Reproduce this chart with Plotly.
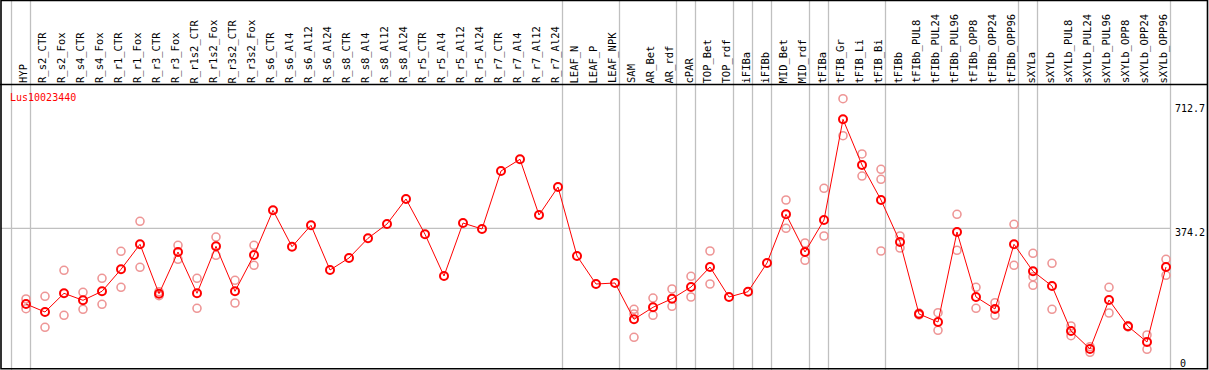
import plotly.graph_objects as go

categories = ["HYP", "R_s2_CTR", "R_s2_Fox", "R_s4_CTR", "R_s4_Fox", "R_r1_CTR", "R_r1_Fox",
              "R_r3_CTR", "R_r3_Fox", "R_r1s2_CTR", "R_r1s2_Fox", "R_r3s2_CTR", "R_r3s2_Fox",
              "R_s6_CTR", "R_s6_Al4", "R_s6_Al12", "R_s6_Al24", "R_s8_CTR", "R_s8_Al4", "R_s8_Al12",
              "R_s8_Al24", "R_r5_CTR", "R_r5_Al4", "R_r5_Al12", "R_r5_Al24", "R_r7_CTR", "R_r7_Al4",
              "R_r7_Al12", "R_r7_Al24", "LEAF_N", "LEAF_P", "LEAF_NPK", "SAM", "AR_Bet", "AR_rdf",
              "cPAR", "TOP_Bet", "TOP_rdf", "iFIBa", "iFIBb", "MID_Bet", "MID_rdf", "tFIBa",
              "tFIB_Gr", "tFIB_Li", "tFIB_Bi", "tFIBb", "tFIBb_PUL8", "tFIBb_PUL24", "tFIBb_PUL96",
              "tFIBb_OPP8", "tFIBb_OPP24", "tFIBb_OPP96", "sXYLa", "sXYLb", "sXYLb_PUL8",
              "sXYLb_PUL24", "sXYLb_PUL96", "sXYLb_OPP8", "sXYLb_OPP24", "sXYLb_OPP96"]

means = [172.1, 150.8, 200.7, 182.0, 206.0, 264.7, 331.5, 199.6, 310.9, 200.7, 326.1, 206.0, 302.9,
         422.2, 325.1, 382.2, 262.9, 294.9, 347.5, 385.6, 452.4, 358.2, 246.9, 388.3, 372.3,
         527.1, 558.3, 409.7, 484.4, 300.2, 225.5, 228.2, 131.3, 163.3, 186.3, 217.5, 270.9,
         190.8, 205.0, 281.6, 411.5, 310.9, 396.3, 665.0, 543.1, 449.7, 337.6, 145.5, 124.1,
         364.3, 190.8, 158.8, 331.5, 259.4, 220.2, 100.1, 52.0, 182.8, 112.6, 70.7, 270.9]

N = None
rep_a = [185.5, 192.7, 262.1, 203.4, 240.7, 312.8, 392.8, 205.0, 328.8, 240.7, 350.9, 235.4, 328.8,
         N, N, N, N, N, N, N, N, N, N, N, N, N, N, N, N, N, N, N,
         158.0, 188.1, 212.2, 246.1, 313.6, N, N, N, 449.7, 334.9, 480.9, 720.0, 572.5, 531.6,
         353.6, 148.0, 148.9, 411.5, 216.7, 175.6, 384.8, 307.4, 280.8, 113.4, 58.2, 216.7,
         114.0, 89.4, 291.4]
rep_b = [159.6, 110.0, 142.0, 158.0, 171.3, 216.7, 270.1, 194.3, 291.4, 160.7, 302.1, 174.8, 275.4,
         N, N, N, N, N, N, N, N, N, N, N, N, N, N, N, N, N, N, N,
         83.3, 142.0, 166.0, 190.8, 225.5, N, N, N, 374.2, 288.8, 353.6, 621.3, 513.7, 313.6,
         321.6, 143.0, 101.9, 315.5, 160.7, 142.0, 275.4, 222.0, 158.0, 87.5, 43.2, 148.1,
         111.0, 51.2, 248.7]
rep_c = [N] * 32 + [145.5] + [N] * 12 + [504.9] + [N] * 7 + [245.0] + [N] * 7

# last category index of each boundary group (vertical separators)
group_ends = [-1, 0, 28, 31, 34, 35, 37, 38, 39, 41, 42, 45, 52, 53, 60]

y_ticks = [712.7, 374.2, 0]
gene = "Lus10023440"

W, H = 1209, 370
X0, DX = 26.0, 19.0          # pixel of first category, pixel per category
Y0, SY = 368.5, 0.3747       # pixel of value 0, pixel per unit

def px2x(px):
    return (px - X0) / DX

def py2v(py):
    return (Y0 - py) / SY

xs = list(range(len(categories)))

fig = go.Figure()

rep_color = "rgb(238,150,150)"
for reps in (rep_a, rep_b, rep_c):
    fig.add_trace(go.Scatter(
        x=xs, y=reps, mode="markers",
        marker=dict(symbol="circle-open", size=8, color=rep_color, line=dict(width=1.6, color=rep_color)),
        showlegend=False, hoverinfo="skip"))

fig.add_trace(go.Scatter(
    x=xs, y=means, mode="lines+markers",
    line=dict(color="red", width=1),
    marker=dict(symbol="circle-open", size=8, color="red", line=dict(width=2, color="red")),
    showlegend=False))

shapes = []
grid = "#c0c0c0"
for g in group_ends:
    xv = g + 4.5 / DX
    shapes.append(dict(type="line", xref="x", yref="paper", x0=xv, x1=xv, y0=0, y1=1,
                       line=dict(color=grid, width=1.3), layer="below"))
# gridline at mid value
shapes.append(dict(type="line", xref="paper", yref="y", x0=1 / W, x1=1170.5 / W,
                   y0=y_ticks[1], y1=y_ticks[1], line=dict(color=grid, width=1.3), layer="below"))
# header separator
shapes.append(dict(type="line", xref="paper", yref="paper", x0=0, x1=1207.5 / W,
                   y0=1 - 84.5 / H, y1=1 - 84.5 / H, line=dict(color="black", width=1.5)))
# frame
shapes.append(dict(type="rect", xref="paper", yref="paper", x0=1.0 / W, x1=1207.5 / W,
                   y0=1 - 368.8 / H, y1=1 - 0.5 / H, line=dict(color="black", width=1.6)))

annotations = []
hdr_font = dict(family="DejaVu Sans Mono", size=10.5, color="black")
for i, c in enumerate(categories):
    annotations.append(dict(x=i, y=py2v(84.5), xref="x", yref="y", text=c, textangle=-90,
                            showarrow=False, xanchor="center", yanchor="bottom", xshift=-3,
                            font=hdr_font, borderpad=0))
annotations.append(dict(x=9 / W, y=1 - 97 / H, xref="paper", yref="paper", text=gene,
                        showarrow=False, xanchor="left", yanchor="middle",
                        font=dict(family="DejaVu Sans Mono", size=10, color="red"), borderpad=0))
tick_py = [108, 232.7, 363]
for v, py in zip(y_ticks, tick_py):
    annotations.append(dict(x=1206 / W, y=1 - py / H, xref="paper", yref="paper",
                            text=f"{v:g}" if v == 0 else f"{v:.1f}",
                            showarrow=False, xanchor="right" if v != 0 else "left",
                            yanchor="middle",
                            font=dict(family="DejaVu Sans Mono", size=10, color="black"),
                            borderpad=0))
annotations[-1]["x"] = 1178.5 / W

fig.update_layout(
    width=W, height=H, autosize=False,
    margin=dict(l=0, r=0, t=0, b=0),
    paper_bgcolor="white", plot_bgcolor="white",
    xaxis=dict(range=[px2x(0), px2x(W)], visible=False, fixedrange=True),
    yaxis=dict(range=[py2v(H), py2v(0)], visible=False, fixedrange=True),
    shapes=shapes, annotations=annotations, showlegend=False,
)

fig.write_html("out.html", config={"displayModeBar": False},
               post_script="document.body.style.margin='0';document.body.style.overflow='hidden';")
